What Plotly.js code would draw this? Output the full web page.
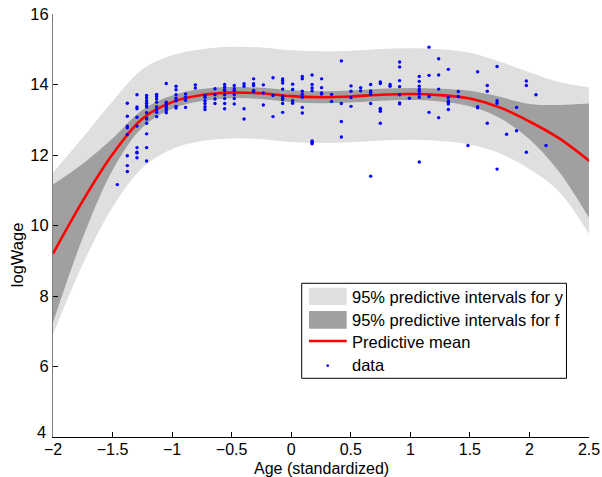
<!DOCTYPE html>
<html>
<head>
<meta charset="utf-8">
<script src="https://cdn.plot.ly/plotly-3.0.1.min.js"></script>
<style>html,body{margin:0;padding:0;background:#fff;}#chart{width:602px;height:477px;}</style>
</head>
<body>
<div id="chart"></div>
<script>
// Grid of the GP prediction
const xGrid = [-2, -1.75, -1.5, -1.25, -1, -0.75, -0.5, -0.25, 0, 0.25, 0.5, 0.75, 1, 1.25, 1.5, 1.75, 2, 2.25, 2.5];
const meanF  = [9.2, 10.7, 12.02, 13.03, 13.5, 13.70, 13.77, 13.75, 13.67, 13.64, 13.66, 13.71, 13.73, 13.70, 13.6, 13.35, 12.95, 12.47, 11.84];
const fUpper = [11.16, 11.75, 12.47, 13.28, 13.69, 13.87, 13.93, 13.91, 13.84, 13.81, 13.83, 13.88, 13.90, 13.88, 13.82, 13.65, 13.45, 13.42, 13.46];
const fLower = [7.24, 9.65, 11.57, 12.78, 13.31, 13.53, 13.61, 13.59, 13.50, 13.47, 13.49, 13.54, 13.56, 13.52, 13.38, 13.05, 12.45, 11.52, 10.22];
const yUpper = [11.5, 12.5, 13.52, 14.43, 14.83, 15.0, 15.07, 15.05, 14.97, 14.94, 14.96, 15.01, 15.03, 15.0, 14.9, 14.65, 14.35, 14.07, 13.92];
const yLower = [6.9, 8.9, 10.52, 11.63, 12.17, 12.4, 12.47, 12.45, 12.37, 12.34, 12.36, 12.41, 12.43, 12.4, 12.3, 12.05, 11.6, 10.95, 9.76];

// Observed data: age columns and logWage values
const ageCols = [-1.460, -1.376, -1.295, -1.214, -1.130, -1.049, -0.967, -0.887, -0.805, -0.724, -0.640, -0.559, -0.478, -0.396, -0.316,
  -0.234, -0.153, -0.072, 0.012, 0.093, 0.175, 0.255, 0.339, 0.421, 0.502, 0.583, 0.667, 0.748, 0.830, 0.910, 0.992,
  1.075, 1.157, 1.238, 1.319, 1.403, 1.484, 1.565, 1.646, 1.728, 1.808, 1.892, 1.974, 2.055, 2.139];
const wageCols = [
  [11.16],
  [13.47, 13.10, 12.82, 12.77, 12.58, 11.98, 11.70, 11.53],
  [13.71, 13.36, 13.31, 13.07, 12.82, 12.21, 12.08, 12.06, 11.92],
  [13.69, 13.62, 13.54, 13.47, 13.40, 13.36, 13.20, 13.05, 13.02, 12.90, 12.60, 12.21, 11.83],
  [13.72, 13.66, 13.59, 13.50, 13.37, 13.29, 13.21, 13.09],
  [14.03, 13.50, 13.45, 13.40, 13.36, 13.31, 13.26, 13.20],
  [13.95, 13.85, 13.71, 13.61, 13.54, 13.38, 13.33],
  [13.73, 13.64, 13.55, 13.35],
  [13.99, 13.90],
  [13.69, 13.64, 13.54, 13.46, 13.37, 13.29],
  [13.88, 13.71, 13.59, 13.46],
  [14.00, 13.92, 13.85, 13.83, 13.71, 13.60, 13.46, 13.31],
  [13.97, 13.88, 13.83, 13.71, 13.60, 13.45],
  [14.02, 13.95, 13.31, 13.02],
  [14.16, 14.02, 13.97, 13.83, 13.80],
  [13.99, 13.76, 13.42],
  [14.19, 13.69, 13.09],
  [14.16, 14.11, 14.04, 13.87, 13.67, 13.61, 13.57, 13.46, 13.21],
  [14.01, 13.86, 13.54, 13.47],
  [14.23, 14.16, 13.81, 13.72, 13.64, 13.35, 13.19],
  [14.27, 14.00, 13.90, 13.82, 12.40, 12.36, 12.32],
  [14.16, 13.91, 13.76, 13.73],
  [13.72, 13.52],
  [14.67, 13.46, 12.95, 12.51],
  [13.96, 13.81, 13.63, 13.38],
  [13.91, 13.82],
  [14.00, 13.82, 13.78, 13.72, 13.46, 11.40],
  [14.07, 14.03, 13.32, 13.29, 13.24, 12.90],
  [14.00, 13.95],
  [14.64, 14.50, 14.11, 13.94, 13.71, 13.48, 13.45],
  [13.61],
  [14.23, 14.09, 13.95, 13.86, 13.81, 13.73, 13.64, 11.80],
  [15.06, 14.26, 13.66, 13.21],
  [14.73, 14.27, 13.87, 13.06],
  [14.43, 13.63, 13.53, 13.50, 13.45, 13.29],
  [13.80, 13.66],
  [12.27],
  [14.36, 13.37, 13.34],
  [13.97, 13.81, 12.90],
  [14.51, 13.54, 13.47, 11.60],
  [12.59],
  [13.35, 12.69],
  [14.10, 13.97, 12.08],
  [13.71],
  [12.27]
];

const xTicks = [-2, -1.5, -1, -0.5, 0, 0.5, 1, 1.5, 2, 2.5];
const xTickText = ['\u22122', '\u22121.5', '\u22121', '\u22120.5', '0', '0.5', '1', '1.5', '2', '2.5'];
const yTicks = [4, 6, 8, 10, 12, 14, 16];
const yTickText = ['', '6', '8', '10', '12', '14', '16'];
const yBottomLabel = '4';
const legendLabels = ['95% predictive intervals for y', '95% predictive intervals for f', 'Predictive mean', 'data'];
const xTitle = 'Age (standardized)';
const yTitle = 'logWage';

const dataX = [], dataY = [];
ageCols.forEach((a, i) => wageCols[i].forEach(v => { dataX.push(a); dataY.push(v); }));

const FONT = 'Liberation Sans, Arial, Helvetica, sans-serif';
const FS = 16.5;
const LIGHT = '#dfdfdf', DARK = '#a0a0a0';

const traces = [
  {x: xGrid, y: yLower, mode: 'lines', line: {width: 0, shape: 'spline'}, showlegend: false, hoverinfo: 'skip'},
  {x: xGrid, y: yUpper, mode: 'lines', line: {width: 0, shape: 'spline'}, fill: 'tonexty', fillcolor: LIGHT, name: legendLabels[0], showlegend: false},
  {x: xGrid, y: fLower, mode: 'lines', line: {width: 0, shape: 'spline'}, showlegend: false, hoverinfo: 'skip'},
  {x: xGrid, y: fUpper, mode: 'lines', line: {width: 0, shape: 'spline'}, fill: 'tonexty', fillcolor: DARK, name: legendLabels[1], showlegend: false},
  {x: xGrid, y: meanF, mode: 'lines', line: {color: '#ff0000', width: 2.6, shape: 'spline'}, name: legendLabels[2], showlegend: false},
  {x: dataX, y: dataY, mode: 'markers', marker: {color: '#0000ff', size: 3.4}, name: legendLabels[3], showlegend: false}
];

// manual MATLAB-style legend (paper coords of the plot area)
const lg = {x0: 0.464, x1: 0.958, y0: 0.1388, y1: 0.3634, sx0: 0.4776, sx1: 0.5479, tx: 0.5541,
            rows: [0.3317, 0.2766, 0.2253, 0.1702]};
const shapes = [
  {type: 'rect', xref: 'paper', yref: 'paper', x0: lg.x0, x1: lg.x1, y0: lg.y0, y1: lg.y1, line: {color: '#000', width: 1}, fillcolor: '#fff', layer: 'above'},
  {type: 'rect', xref: 'paper', yref: 'paper', x0: lg.sx0, x1: lg.sx1, y0: 0.3121, y1: 0.3530, line: {width: 0}, fillcolor: LIGHT, layer: 'above'},
  {type: 'rect', xref: 'paper', yref: 'paper', x0: lg.sx0, x1: lg.sx1, y0: 0.2560, y1: 0.2979, line: {width: 0}, fillcolor: DARK, layer: 'above'},
  {type: 'line', xref: 'paper', yref: 'paper', x0: lg.sx0, x1: lg.sx1, y0: 0.2270, y1: 0.2270, line: {color: '#ff0000', width: 2.6}, layer: 'above'},
  {type: 'circle', xref: 'paper', yref: 'paper', x0: 0.5125 - 0.0024, x1: 0.5125 + 0.0024, y0: 0.1686 - 0.0031, y1: 0.1686 + 0.0031, line: {width: 0}, fillcolor: '#0000ff', layer: 'above'}
];
const annotations = legendLabels.map((t, i) => ({
  text: t, xref: 'paper', yref: 'paper', x: lg.tx, y: lg.rows[i], xanchor: 'left', yanchor: 'middle',
  showarrow: false, font: {family: FONT, size: FS, color: '#000'}
}));
annotations.push({text: yTitle, xref: 'paper', yref: 'paper', x: -0.067, y: 0.43, xanchor: 'center', yanchor: 'middle',
  textangle: -90, showarrow: false, font: {family: FONT, size: FS, color: '#000'}});
annotations.push({text: xTitle, xref: 'paper', yref: 'paper', x: 0.5, y: -0.0745, xanchor: 'center', yanchor: 'middle',
  showarrow: false, borderpad: 0, font: {family: FONT, size: 16, color: '#000'}});
// bottom y tick label, raised slightly above the corner like the original
annotations.push({text: yBottomLabel, xref: 'paper', yref: 'paper', x: -0.0112, y: 0.0125, xanchor: 'right', yanchor: 'middle',
  showarrow: false, borderpad: 0, font: {family: FONT, size: FS, color: '#000'}});

const layout = {
  width: 602, height: 477,
  margin: {l: 53, r: 13, t: 14, b: 40},
  paper_bgcolor: '#fff', plot_bgcolor: '#fff',
  font: {family: FONT, size: FS, color: '#000'},
  showlegend: false,
  xaxis: {range: [-2, 2.5], tickvals: xTicks, ticktext: xTickText, ticks: 'inside', ticklen: 5, tickcolor: '#000',
          showline: true, linecolor: '#000', linewidth: 1, showgrid: false, zeroline: false, mirror: false,
          tickfont: {family: FONT, size: 16}, ticklabelstandoff: -2, automargin: false},
  yaxis: {range: [4, 16], tickvals: yTicks, ticktext: yTickText, ticks: 'inside', ticklen: 5, tickcolor: '#000',
          showline: true, linecolor: '#808080', linewidth: 1, showgrid: false, zeroline: false, mirror: false,
          tickfont: {family: FONT, size: FS}, automargin: false},
  shapes: shapes,
  annotations: annotations
};

Plotly.newPlot('chart', traces, layout, {displayModeBar: false, staticPlot: true});
</script>
</body>
</html>
